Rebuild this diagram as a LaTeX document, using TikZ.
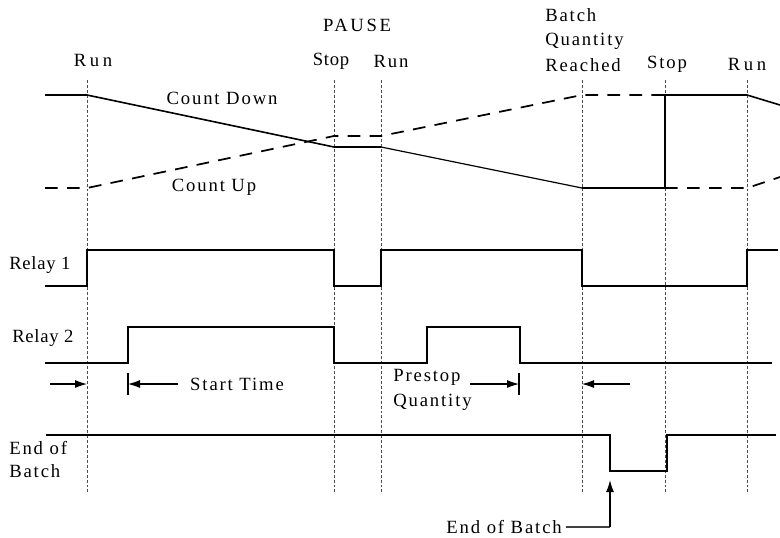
\documentclass[tikz,border=0pt]{standalone}
\usepackage{fontspec}
\setmainfont{Liberation Serif}
\newfontfamily\spA[LetterSpace=10]{Liberation Serif}
\newfontfamily\spB[LetterSpace=14]{Liberation Serif}
\newfontfamily\spC[LetterSpace=19]{Liberation Serif}
\newfontfamily\spD[LetterSpace=4]{Liberation Serif}
\usetikzlibrary{arrows.meta}
\begin{document}
\begin{tikzpicture}[x=0.75pt,y=-0.75pt,
  lbl/.style={inner sep=0pt,font=\fontsize{14pt}{16pt}\spA},
  lblB/.style={lbl,font=\fontsize{14pt}{16pt}\spB},
  lblC/.style={lbl,font=\fontsize{14pt}{16pt}\spC},
  lblD/.style={lbl,font=\fontsize{14pt}{16pt}\spD},
  guide/.style={draw=black!70,line width=0.5pt,dash pattern=on 2.2pt off 1.5pt},
  sig/.style={draw=black,line width=1.5pt,line join=miter},
  sigthin/.style={draw=black,line width=1.0pt},
  dsig/.style={draw=black,line width=1.3pt,dash pattern=on 9.5pt off 7pt},
  arr/.style={draw=black,line width=0.8pt,-{Latex[length=9pt,width=6pt]}},
  tick/.style={draw=black,line width=0.8pt}]
\useasboundingbox (0,0) rectangle (780,537);
% guide lines
\foreach \x/\n in {87/a,334/b,381/c,582/d,665/e,747/f}{
  \coordinate (t\n) at (\x,80);
  \coordinate (b\n) at (\x,492);
  \draw[guide] (t\n) -- (b\n);
}
% top labels
\node[lblB] (pause) at (357,25) {PAUSE};
\node[lblC] (run1) at (93,60) {Run};
\node[lblD] (stop1) at (331,61) {Stop};
\node[lbl] (run2) at (391,61) {Run};
\node[lbl,anchor=west] (bq1) at (545,15) {Batch};
\node[lbl,anchor=west] (bq2) at (545,41) {Quantity};
\node[lbl,anchor=west] (bq3) at (545,65) {Reached};
\node[lbl] (stop2) at (667,64) {Stop};
\node[lblC] (run3) at (747,64) {Run};
\node[lbl] (cd) at (222,98) {Count Down};
\node[lbl] (cu) at (214,187) {Count Up};
% count down
\draw[sig] (45,95) -- (87,95);
\draw[sigthin,line width=1.2pt] (87,95) -- (334,147) -- (381,147);
\draw[sigthin,line width=0.9pt] (381,147) -- (582,188);
\draw[sig] (582,188) -- (665,188) -- (665,95) -- (747,95);
\draw[sigthin,line width=1.2pt] (747,95) -- (780,105);
% count up
\draw[dsig] (45,188) -- (87,188) -- (334,136) -- (381,136) -- (582,95) -- (665,95);
\draw[dsig] (665,188) -- (747,188) -- (780,177);
% relay 1
\node[lblD,anchor=west] (r1) at (9,265) {Relay 1};
\draw[sig] (45,286) -- (87,286) -- (87,250) -- (334,250) -- (334,286) -- (381,286) -- (381,250) -- (582,250) -- (582,286) -- (747,286) -- (747,250) -- (778,250);
% relay 2
\node[lblD,anchor=west] (r2) at (12,338) {Relay 2};
\draw[sigthin,line width=1.3pt] (45,363) -- (128,363) -- (128,327) -- (334,327) -- (334,363) -- (427,363) -- (427,327) -- (520,327) -- (520,363) -- (772,363);
% timing arrows
\coordinate (a1s) at (50,384); \coordinate (a1e) at (87,384);
\draw[arr] (a1s) -- (a1e);
\coordinate (k1t) at (128,373); \coordinate (k1b) at (128,395);
\draw[tick] (k1t) -- (k1b);
\coordinate (a2s) at (178,384); \coordinate (a2e) at (128,384);
\draw[arr] (a2s) -- (a2e);
\node[lbl] (st) at (237,384) {Start Time};
\node[lbl,anchor=west] (ps1) at (393,377) {Prestop};
\node[lbl,anchor=west] (ps2) at (393,402) {Quantity};
\coordinate (a3s) at (470,384); \coordinate (a3e) at (519,384);
\draw[arr] (a3s) -- (a3e);
\coordinate (k2t) at (519,373); \coordinate (k2b) at (519,395);
\draw[tick] (k2t) -- (k2b);
\coordinate (a4s) at (630,384); \coordinate (a4e) at (582,384);
\draw[arr] (a4s) -- (a4e);
% end of batch
\node[lbl,anchor=west] (eb1) at (9,448) {End of};
\node[lbl,anchor=west] (eb2) at (9,471) {Batch};
\draw[sigthin,line width=1.3pt] (46,435) -- (610,435) -- (610,471) -- (667,471) -- (667,435) -- (776,435);
\node[lbl,anchor=east] (ebl) at (562,527) {End of Batch};
\coordinate (ea) at (566,527); \coordinate (eb) at (610,527); \coordinate (ec) at (610,480);
\draw[draw=black!75,line width=1.2pt] (ea) -- (eb);
\draw[arr,line width=1pt] (eb) -- (ec);
\end{tikzpicture}
\end{document}
